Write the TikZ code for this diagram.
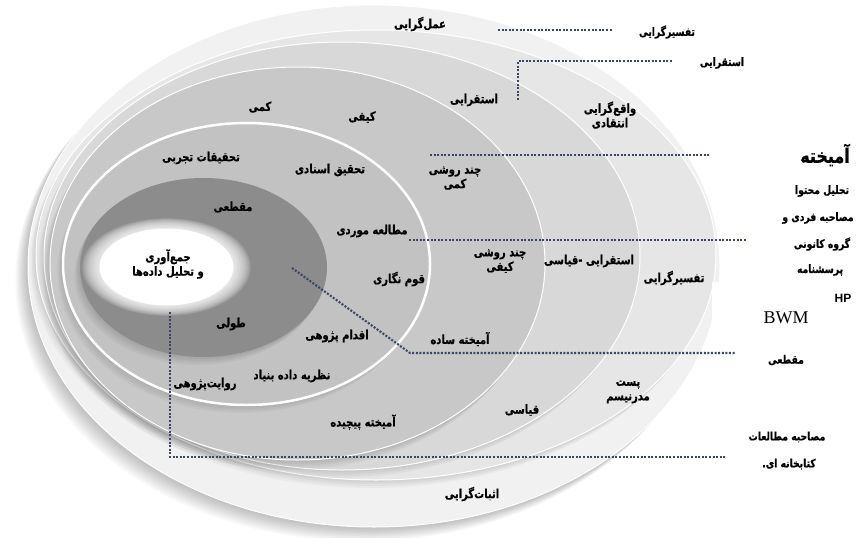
\documentclass[tikz,border=0pt]{standalone}
\usepackage{fontspec}
\newfontfamily\fa[Script=Arabic, FakeStretch=0.8, FakeBold=0.6]{DejaVu Sans Bold}
\newfontfamily\lsans{Liberation Sans}
\newfontfamily\lserif{Liberation Serif}
\TeXXeTstate=1
\newcommand{\rl}[1]{\beginR #1\endR}
\definecolor{rA}{HTML}{F1F1F1}
\definecolor{rB}{HTML}{E6E6E6}
\definecolor{rC}{HTML}{D8D8D8}
\definecolor{rD}{HTML}{C8C8C8}
\definecolor{rE}{HTML}{C2C2C2}
\definecolor{rF}{HTML}{8C8C8C}
\definecolor{dotc}{HTML}{3A4663}
\tikzset{
  lbl/.style={font=\fa\fontsize{12.5}{14.5}\selectfont, inner sep=0pt, align=center, text=black},
  side/.style={font=\fa\fontsize{11.5}{13.5}\selectfont, inner sep=0pt, align=center, text=black},
  dotline/.style={draw=dotc, line width=2.1pt, dash pattern=on 2pt off 1.6pt},
  rim/.style={draw=white, line width=1pt},
}
\begin{document}
\begin{tikzpicture}[x=1pt,y=-1pt]
\useasboundingbox (0,0) rectangle (862,538);
\fill[white] (0,0) rectangle (862,538);

% ---- outer shadow
\foreach \o in {16,14.5,13,11.5,10,8.5,7,5.5,4,2.5,1}{
  \fill[black, opacity=0.022] (374-\o*0.8, 266+\o*0.9) ellipse [x radius=346pt, y radius=261pt];
}
% R1
\fill[rA] (374,266) ellipse [x radius=346pt, y radius=261pt];
\draw[rim] (374,266) ellipse [x radius=346pt, y radius=261pt];
% R2
\foreach \o in {8,6,4,2}{
  \fill[black, opacity=0.03] (376-\o*0.7, 255+\o) ellipse [x radius=340pt, y radius=225pt];
}
\fill[rB] (376,255) ellipse [x radius=340pt, y radius=225pt];
\draw[rim] (376,255) ellipse [x radius=340pt, y radius=225pt];
% R3
\foreach \o in {8,6,4,2}{
  \fill[black, opacity=0.03] (342-\o*0.7, 256+\o) ellipse [x radius=298pt, y radius=214pt];
}
\fill[rC] (342,256) ellipse [x radius=298pt, y radius=214pt];
\draw[rim] (342,256) ellipse [x radius=298pt, y radius=214pt];
% R4
\foreach \o in {10,8,6,4,2}{
  \fill[black, opacity=0.03] (297.5-\o*0.7, 263.5+\o) ellipse [x radius=247.5pt, y radius=196.5pt];
}
\fill[rD] (297.5,263.5) ellipse [x radius=247.5pt, y radius=196.5pt];
\draw[rim] (297.5,263.5) ellipse [x radius=247.5pt, y radius=196.5pt];
% R5
\foreach \o in {8,6,4,2}{
  \fill[black, opacity=0.03] (246.5-\o*0.7, 264+\o) ellipse [x radius=183.5pt, y radius=141pt];
}
\fill[rE] (246.5,264) ellipse [x radius=183.5pt, y radius=141pt];
\draw[white, line width=2.5pt] (246.5,264) ellipse [x radius=183.5pt, y radius=141pt];
% R6
\foreach \o in {8,6,4,2}{
  \fill[black, opacity=0.035] (203.5-\o*0.7, 267.5+\o) ellipse [x radius=123.5pt, y radius=89.5pt];
}
\fill[rF] (203.5,267.5) ellipse [x radius=123.5pt, y radius=89.5pt];
% core glow
\foreach \s in {1.11,1.09,1.07,1.05,1.03,1.01,0.99,0.97,0.95,0.93,0.91,0.89}{
  \fill[white, opacity=0.13] (166.5,267) ellipse [x radius=76pt*\s, y radius=44pt*\s];
}
\fill[white] (166.5,267) ellipse [x radius=67pt, y radius=38.5pt];

% white patch on the right
\fill[white] (712,282) rectangle (862,345);

% ---- dotted connectors
\coordinate (d1a) at (498,30);  \coordinate (d1b) at (612,30);
\coordinate (d2a) at (518,100); \coordinate (d2b) at (518,61); \coordinate (d2c) at (673,61);
\coordinate (d3a) at (430,155); \coordinate (d3b) at (710,155);
\coordinate (d4a) at (409,240); \coordinate (d4b) at (746,240);
\coordinate (d5a) at (292,268); \coordinate (d5b) at (410,353); \coordinate (d5c) at (735,353);
\coordinate (d6a) at (170,312); \coordinate (d6b) at (170,457); \coordinate (d6c) at (725,457);
\draw[dotline] (d1a) -- (d1b);
\draw[dotline] (d2a) -- (d2b) -- (d2c);
\draw[dotline] (d3a) -- (d3b);
\draw[dotline] (d4a) -- (d4b);
\draw[dotline] (d5a) -- (d5b) -- (d5c);
\draw[dotline] (d6a) -- (d6b) -- (d6c);

% ---- labels in the rings
\node[lbl] (amal) at (420,24) {\rl{عمل‌گرایی}};
\node[lbl] (esteq) at (474,100) {\rl{استقرایی}};
\node[lbl] (vaqe) at (610,115) {\rl{واقع‌گرایی}\\\rl{انتقادی}};
\node[lbl] (tafsir) at (674,278) {\rl{تفسیرگرایی}};
\node[lbl] (post) at (628,392) {\rl{پست}\\\rl{مدرنیسم}};
\node[lbl] (esbat) at (472,494) {\rl{اثبات‌گرایی}};
\node[lbl] (eqgh) at (589,261) {\rl{استقرایی -قیاسی}};
\node[lbl] (qiasi) at (522,410) {\rl{قیاسی}};
\node[lbl] (kammi) at (260,107) {\rl{کمی}};
\node[lbl] (keyfi) at (362,117) {\rl{کیفی}};
\node[lbl] (chkam) at (455,178) {\rl{چند روشی}\\\rl{کمی}};
\node[lbl] (chkey) at (500,261) {\rl{چند روشی}\\\rl{کیفی}};
\node[lbl] (amsad) at (460,339) {\rl{آمیخته ساده}};
\node[lbl] (ampich) at (363,422) {\rl{آمیخته پیچیده}};
\node[lbl] (tajrobi) at (201,158) {\rl{تحقیقات تجربی}};
\node[lbl] (asnadi) at (330,170) {\rl{تحقیق اسنادی}};
\node[lbl] (moredi) at (372,231) {\rl{مطالعه موردی}};
\node[lbl] (qom) at (399,279) {\rl{قوم نگاری}};
\node[lbl] (eqdam) at (337,336) {\rl{اقدام پژوهی}};
\node[lbl] (nazarie) at (292,376) {\rl{نظریه داده بنیاد}};
\node[lbl] (ravayat) at (205,384) {\rl{روایت‌پژوهی}};
\node[lbl] (maqtai) at (233,207) {\rl{مقطعی}};
\node[lbl] (tuli) at (231,324) {\rl{طولی}};
\node[lbl] (core) at (168,264) {\rl{جمع‌آوری}\\\rl{و تحلیل داده‌ها}};

% ---- labels outside
\node[side] (tafsirR) at (667,32) {\rl{تفسیرگرایی}};
\node[side] (esteqR) at (722,63) {\rl{استقرایی}};
\node[font=\fa\fontsize{20}{22}\selectfont, inner sep=0pt] (amikhte) at (825,155) {\rl{آمیخته}};
\node[side] (tahlil) at (822,191) {\rl{تحلیل محتوا}};
\node[side] (mosahebe) at (818,218) {\rl{مصاحبه فردی و}};
\node[side] (goruh) at (822,244) {\rl{گروه کانونی}};
\node[side] (porsesh) at (820,270) {\rl{پرسشنامه}};
\node[font=\lsans\bfseries\fontsize{12}{13}\selectfont, inner sep=0pt] (hp) at (843,298) {HP};
\node[font=\lserif\fontsize{18}{19}\selectfont, inner sep=0pt] (bwm) at (786,318) {BWM};
\node[side] (maqtaiR) at (786,360) {\rl{مقطعی}};
\node[side] (motaleat) at (787,437) {\rl{مصاحبه مطالعات}};
\node[side] (ketab) at (789,464) {\rl{کتابخانه ای.}};
\end{tikzpicture}
\end{document}
